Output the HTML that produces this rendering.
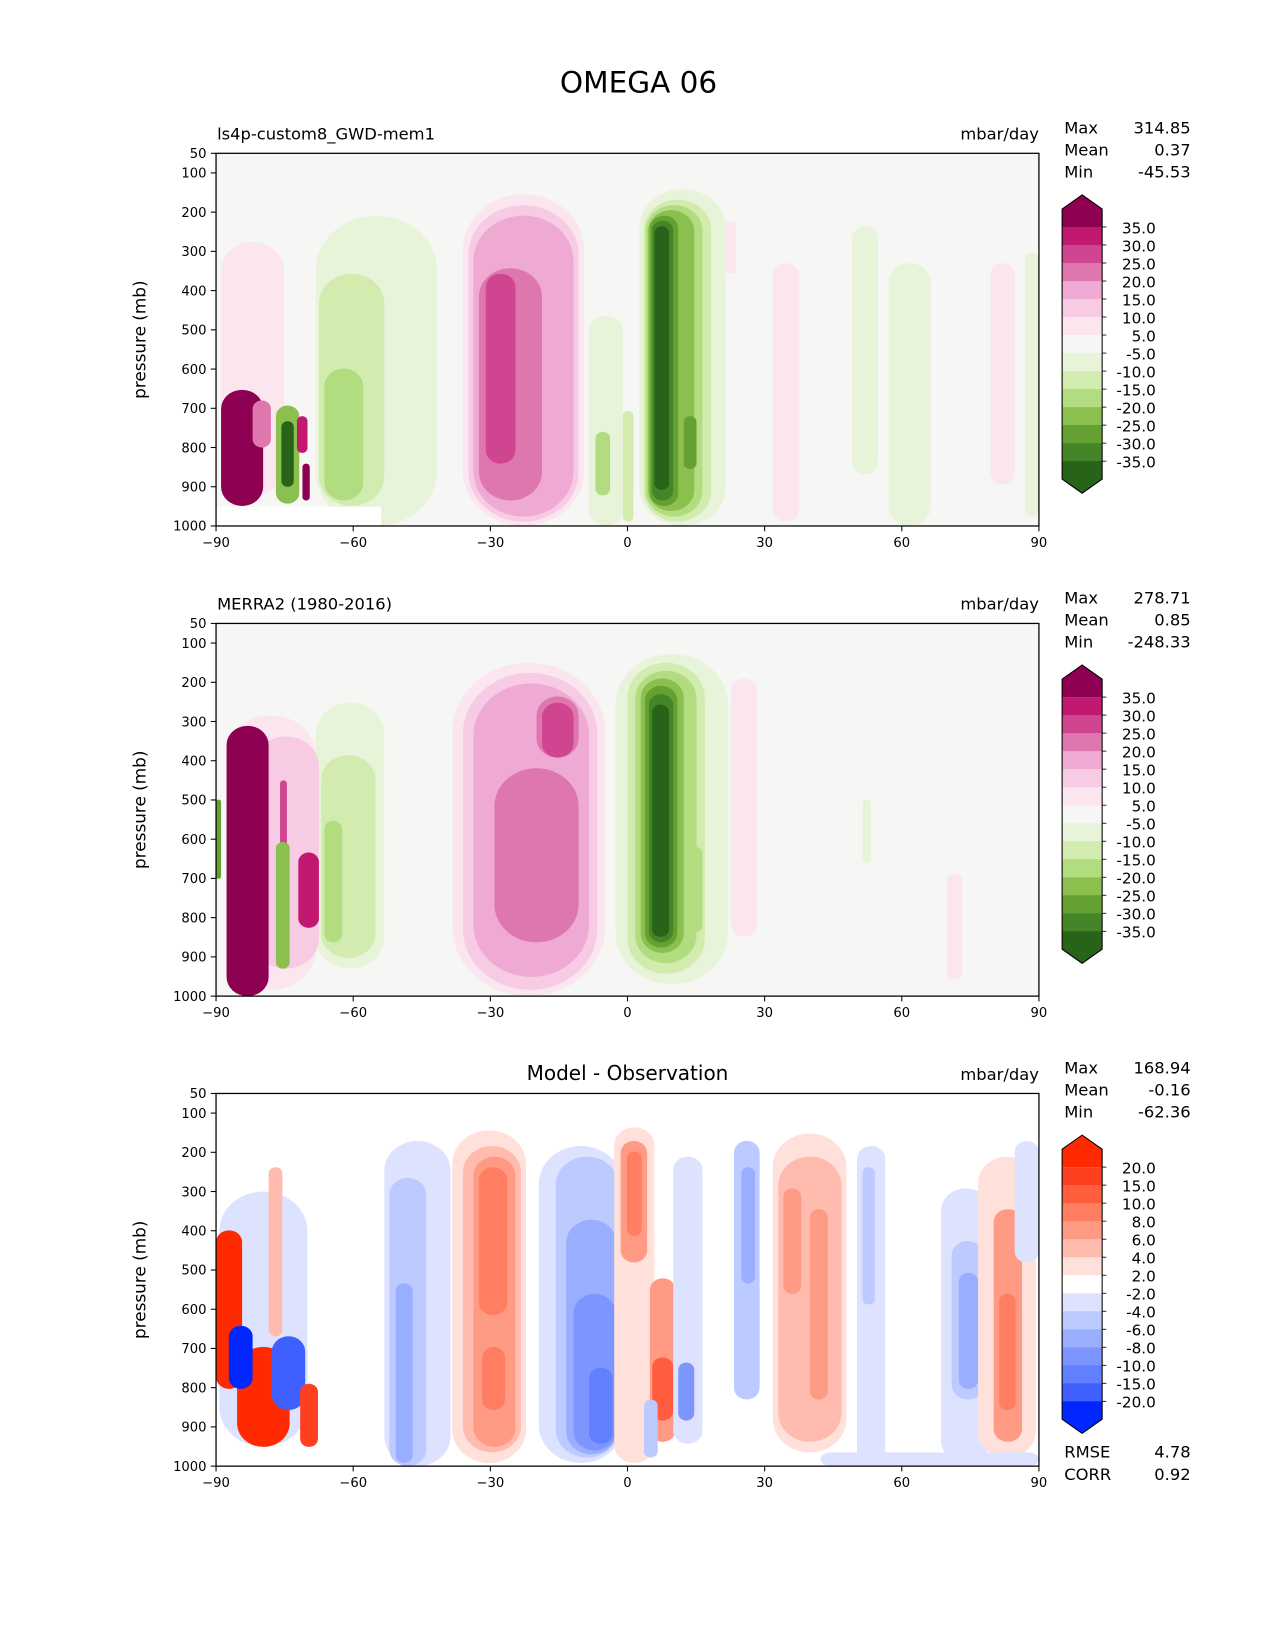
<!DOCTYPE html>
<html><head><meta charset="utf-8"><title>OMEGA 06</title>
<style>
html,body{margin:0;padding:0;background:#fff;}
svg{display:block;font-family:"DejaVu Sans","Liberation Sans",sans-serif;}
</style></head>
<body>
<svg id="fig" width="1275" height="1650" viewBox="0 0 1210 1566" xmlns="http://www.w3.org/2000/svg">
<rect width="1210" height="1566" fill="#fff"/>
<text x="606" y="88" font-size="28" text-anchor="middle">OMEGA 06</text>
</svg>
<script>
// ---------- data ----------
const latTicks = [-90,-60,-30,0,30,60,90];
const presTicks = [50,100,200,300,400,500,600,700,800,900,1000];
const piygLabels = ["35.0","30.0","25.0","20.0","15.0","10.0","5.0","-5.0","-10.0","-15.0","-20.0","-25.0","-30.0","-35.0"];
const diffLabels = ["20.0","15.0","10.0","8.0","6.0","4.0","2.0","-2.0","-4.0","-6.0","-8.0","-10.0","-15.0","-20.0"];
const panelTitles = ["ls4p-custom8_GWD-mem1","MERRA2 (1980-2016)",""];
const statNames = ["Max","Mean","Min"];
const statModel = ["314.85","0.37","-45.53"];
const statObs = ["278.71","0.85","-248.33"];
const statDiff = ["168.94","-0.16","-62.36"];
const skillNames = ["RMSE","CORR"];
const skillValues = ["4.78","0.92"];

// contour regions: lat range, pressure range (mb), level index
const m_latLo=[-36,-34.8,-33.7,-32.5,-31, 2.6,3.6,4,4.5,4.9,5.4,5.9,12.3, -8.4,-7,-1, -68.2,-67.5,-66.3, -88.9,-88.9,-82, -76.9,-75.7,-72.3,-71.1, 31.8,79.4,21.5, 49.1,57.1,87];
const m_latHi=[-9.5,-10.7,-11.8,-18.7,-24.5, 21.5,18.3,16.4,14.6,11.1,10,9.1,15.1, -1,-3.8,1.3, -41.7,-53.2,-57.8, -75.1,-79.7,-78, -71.8,-73,-70,-69.5, 37.6,84.7,23.8, 54.8,66.3,90];
const m_pTop=[155,182,209,343,357, 141,168,182,195,209,222,236,720, 464,760,707, 209,357,599, 276,653,680, 693,733,720,841, 330,330,222, 236,330,303];
const m_pBot=[1000,989,976,935,841, 1000,989,976,962,949,935,908,855, 1000,922,989, 1000,949,935, 922,949,800, 943,900,814,935, 989,895,357, 868,1000,976];
const m_level=[1,2,3,4,5, -1,-2,-3,-4,-5,-6,-7,-5, -1,-3,-2, -1,-2,-3, 1,7,4, -4,-7,6,7, 1,1,1, -1,-1,-1];

const o_latLo=[-38.3,-36,-33.7,-29.1,-19.9,-18.7, -2.6,0,1.7,2.9,3.8,4.7,5.4,13.4, -68.2,-67,-66.3, -87.7,-82,-87.7,-76,-72,-76.9, 22.6,-90,51.4,69.8];
const o_latHi=[-4.9,-6.6,-8.4,-10.7,-10.7,-11.8, 22,16.9,15.1,12.3,10.9,10,9.1,16.4, -53.2,-55.1,-62.4, -68.2,-67.5,-78.5,-74.5,-67.5,-73.9, 28.4,-88.9,53.2,73.2];
const o_pTop=[150,176,203,419,236,252, 128,150,171,190,209,230,257,620, 252,386,553, 284,338,311,450,634,607, 190,499,499,688];
const o_pBot=[1000,984,951,863,392,392, 970,943,916,890,876,863,849,836, 930,903,863, 984,930,1000,820,826,930, 849,701,661,957];
const o_level=[1,2,3,4,4,5, -1,-2,-3,-4,-5,-6,-7,-3, -1,-2,-3, 1,2,7,5,6,-4, 1,-5,-1,1];

const d_latLo=[-38.3,-36,-33.7,-32.5,-31.8, -53.2,-52.1,-50.7, -19.4,-15.7,-13.4,-11.8,-8.4, -2.9,-1.5,-0.1,4.9,5.4, 10,11.1,3.6, 23.3,24.9, 31.8,33,34.1,39.9, 50.2,51.4, 68.6,70.9,72.5, 76.7,80.1,81.3, 84.7,42.2, -89.3,-78.5,-90,-85.4,-87.2,-77.8,-71.6];
const d_latHi=[-22.2,-23.3,-24.5,-26.3,-26.8, -38.7,-44,-47, -1,-2,-2.4,-2.6,-3.3, 5.9,4.3,3.1,10.5,10, 16.4,14.6,6.6, 28.9,27.9, 47.9,46.8,38,43.8, 56.4,54.1, 79.4,78,76.7, 89.3,86.3,84.9, 90,90, -70,-75.5,-84.3,-73.9,-82,-70.5,-67.7];
const d_pTop=[144,184,211,238,696, 171,265,534, 184,211,372,561,749, 136,171,198,521,723, 211,736,830, 171,238, 152,211,292,345, 184,238, 292,426,507, 211,345,561, 171,965, 300,238,399,696,642,669,790];
const d_pBot=[992,965,951,615,857, 1000,1000,992, 992,978,970,960,943, 992,481,413,938,884, 943,884,978, 830,534, 965,938,561,830, 992,588, 992,830,803, 978,938,857, 481,1000, 950,669,803,951,803,857,951];
const d_level=[1,2,3,4,4, -1,-2,-3, -1,-2,-3,-4,-5, 1,3,4,3,5, -1,-4,-2, -2,-3, 1,2,3,3, -1,-2, -1,-2,-3, 1,3,4, -1,-1, -1,2,7,7,-7,-6,6];

// ---------- palettes ----------
const piygPos=["#f6f6f4","#fbe6f0","#f7cbe4","#efaad3","#de77ae","#d0458f","#c0196f","#8e0152"];
const piygNeg=["#f6f6f4","#e8f4d9","#d2ecb0","#b2dc80","#8bc04f","#64a032","#448527","#276419"];
const diffPos=["#ffffff","#ffe0da","#ffbcae","#ff9a85","#ff7d60","#ff5d3d","#ff4020","#ff2a00"];
const diffNeg=["#ffffff","#dde3ff","#bccaff","#9aaeff","#7d95ff","#6180ff","#3f60ff","#0027ff"];

const NS="http://www.w3.org/2000/svg";
const svg=document.getElementById('fig');
const X0=205, X1=986, H=353.7;
const tops=[145.5,591.7,1037.8];
function xs(lat){return X0+(lat+90)/180*(X1-X0);}
function ys(p,top){return top+(p-50)/950*H;}
function mk(tag,attrs,parent){const e=document.createElementNS(NS,tag);for(const k in attrs)e.setAttribute(k,attrs[k]);(parent||svg).appendChild(e);return e;}
function txt(s,attrs,parent){const e=mk('text',attrs,parent);e.textContent=s;return e;}

function drawPanel(i,bg,lo,hi,pt,pb,lv,pos,neg,missing){
  const top=tops[i];
  const g=mk('g',{});
  
  
  const cid='clip'+i;
  const cp=mk('clipPath',{id:cid},g);
  mk('rect',{x:X0,y:top,width:X1-X0,height:H},cp);
  const inner=mk('g',{'clip-path':'url(#'+cid+')'},g);
  const bgr=mk('rect',{x:X0,y:top,width:X1-X0,height:H,fill:bg},inner);
  
  
  for(let k=0;k<lo.length;k++){
    const x1=xs(lo[k]),x2=xs(hi[k]),y1=ys(pt[k],top),y2=ys(pb[k],top);
    const w=x2-x1,h=y2-y1;
    const col=lv[k]>0?pos[lv[k]]:neg[-lv[k]];
    const r=mk('rect',{x:x1,y:y1,width:w,height:h,rx:Math.min(w/2,h*0.8),ry:Math.min(h/2,w*0.45),fill:col},inner);
    
    
  }
  if(missing){
    const mr=mk('rect',{x:X0,y:ys(missing[1],top),width:xs(missing[0])-X0,height:top+H-ys(missing[1],top),fill:'#ffffff'},inner);
    
    
  }
  const fr=mk('rect',{x:X0,y:top,width:X1-X0,height:H,fill:'none',stroke:'#000','stroke-width':1.2},g);
  
  
  presTicks.forEach(p=>{
    const y=ys(p,top);
    mk('line',{x1:X0-5,x2:X0,y1:y,y2:y,stroke:'#000','stroke-width':1},g);
    const t=txt(String(p),{x:X0-9,y:y+4.5,'font-size':12.5,'text-anchor':'end'},g);
    
    
  });
  latTicks.forEach(l=>{
    const x=xs(l);
    mk('line',{x1:x,x2:x,y1:top+H,y2:top+H+5,stroke:'#000','stroke-width':1},g);
    const t=txt(l<0?'\u2212'+Math.abs(l):String(l),{x:x,y:top+H+20,'font-size':12.5,'text-anchor':'middle'},g);
    
    
  });
  const yl=txt('pressure (mb)',{x:0,y:0,'font-size':16,'text-anchor':'middle',transform:'translate(138,'+(top+H/2)+') rotate(-90)'},g);
  
  
  if(panelTitles[i]){
    const pt1=txt(panelTitles[i],{x:X0+1,y:top-13,'font-size':15.5},g);
    
    
  } else {
    const pt2=txt('Model - Observation',{x:(X0+X1)/2,y:top-13,'font-size':19},g);
    pt2.setAttribute('text-anchor','middle');
    
    
  }
  const u=txt('mbar/day',{x:X1,y:top-13,'font-size':15.5,'text-anchor':'end'},g);
  
  
}

function drawStats(i,vals){
  const top=tops[i];
  for(let k=0;k<3;k++){
    const y=top-19+k*21;
    const a=txt(statNames[k],{x:1010,y:y,'font-size':15.5});
    
    
    const b=txt(vals[k],{x:1130,y:y,'font-size':15.5,'text-anchor':'end'});
    
    
  }
}

function drawColorbar(i,labels,pos,neg){
  const off=tops[i]-tops[0];
  const g=mk('g',{});
  
  
  const cx0=1008, cx1=1046, b0=215.4+off, step=17.1;
  const cols=[pos[6],pos[5],pos[4],pos[3],pos[2],pos[1],pos[0],neg[1],neg[2],neg[3],neg[4],neg[5],neg[6]];
  mk('polygon',{points:`${cx0},${b0} ${cx0},${198.4+off} ${(cx0+cx1)/2},${185+off} ${cx1},${198.4+off} ${cx1},${b0}`,fill:pos[7]},g);
  for(let k=0;k<13;k++){
    const r=mk('rect',{x:cx0,y:b0+k*step,width:cx1-cx0,height:step+0.4,fill:cols[k]},g);
    
    
  }
  const bEnd=b0+13*step;
  mk('polygon',{points:`${cx0},${bEnd} ${cx0},${bEnd+17} ${(cx0+cx1)/2},${bEnd+30.4} ${cx1},${bEnd+17} ${cx1},${bEnd}`,fill:neg[7]},g);
  mk('polygon',{points:`${cx0},${198.4+off} ${(cx0+cx1)/2},${185+off} ${cx1},${198.4+off} ${cx1},${bEnd+17} ${(cx0+cx1)/2},${bEnd+30.4} ${cx0},${bEnd+17}`,fill:'none',stroke:'#000','stroke-width':1},g);
  labels.forEach((l,k)=>{
    const y=b0+k*step;
    mk('line',{x1:cx1,x2:cx1+4,y1:y,y2:y,stroke:'#000','stroke-width':0.8},g);
    const t=txt(l,{x:1097,y:y+6,'font-size':14.5,'text-anchor':'end'},g);
    
    
  });
}

drawPanel(0,'#f6f6f4',m_latLo,m_latHi,m_pTop,m_pBot,m_level,piygPos,piygNeg,[-53.9,951]);
drawPanel(1,'#f6f6f4',o_latLo,o_latHi,o_pTop,o_pBot,o_level,piygPos,piygNeg,null);
drawPanel(2,'#ffffff',d_latLo,d_latHi,d_pTop,d_pBot,d_level,diffPos,diffNeg,[-53.2,951]);
drawStats(0,statModel);drawStats(1,statObs);drawStats(2,statDiff);
drawColorbar(0,piygLabels,piygPos,piygNeg);
drawColorbar(1,piygLabels,piygPos,piygNeg);
drawColorbar(2,diffLabels,diffPos,diffNeg);
skillNames.forEach((n,k)=>{
  const y=tops[2]+H-8+k*21;
  const a=txt(n,{x:1010,y:y,'font-size':15.5});
  
  
  const b=txt(skillValues[k],{x:1130,y:y,'font-size':15.5,'text-anchor':'end'});
  
  
});
</script>
</body></html>
